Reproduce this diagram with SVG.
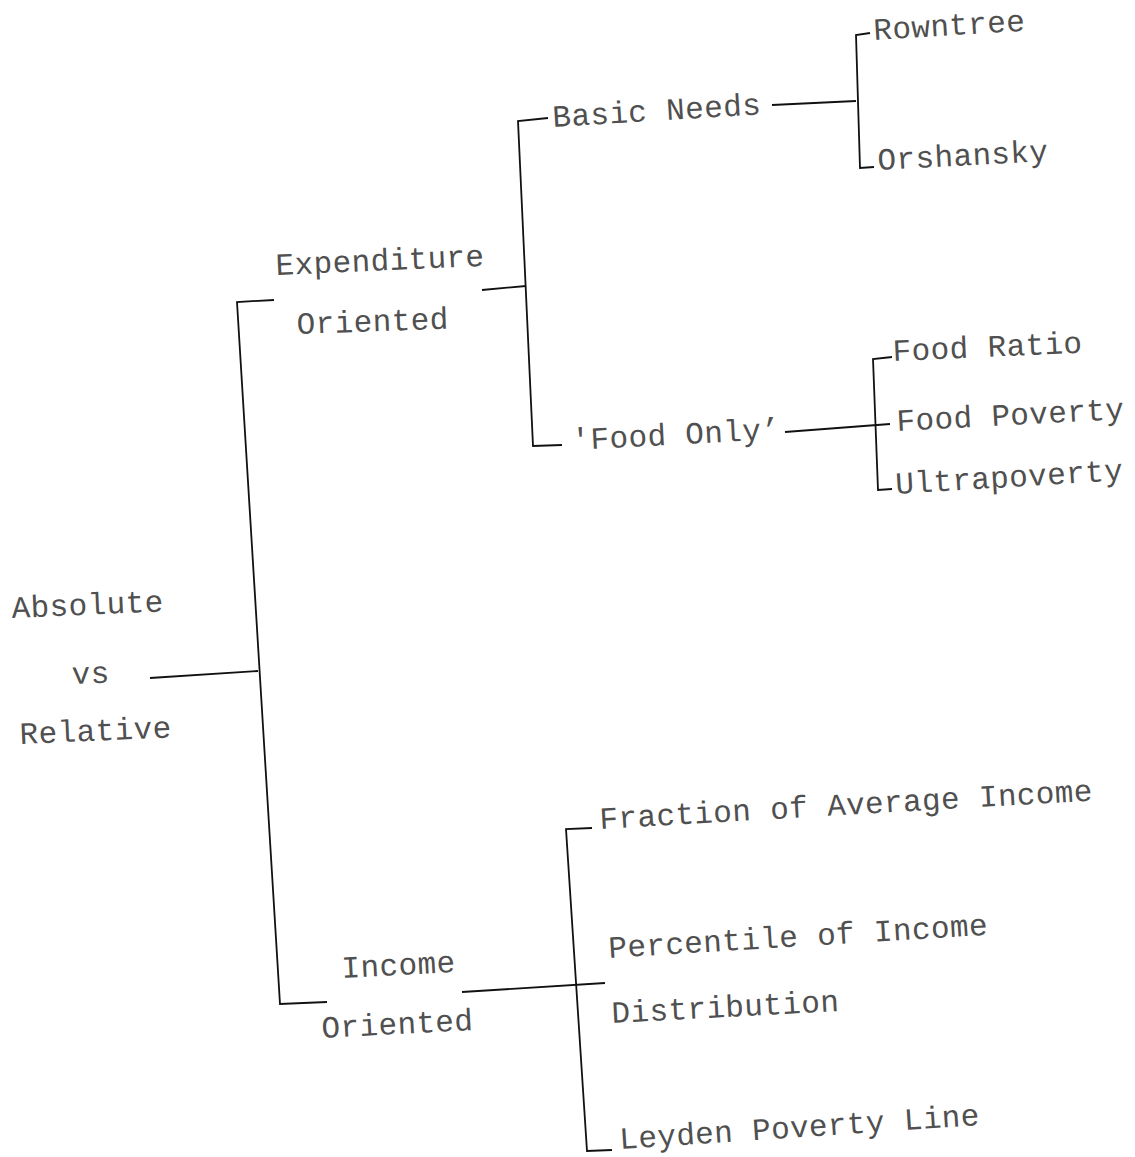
<svg xmlns="http://www.w3.org/2000/svg" width="1135" height="1157" viewBox="0 0 1135 1157">
<style>
  .t { font-family: "Liberation Mono", "Courier New", monospace; font-size: 31px; letter-spacing: 0.4px; fill: #505050; }
  .c { fill: none; stroke: #111; stroke-width: 1.8; stroke-linejoin: miter; }
</style>
<rect width="1135" height="1157" fill="#fff"/>
<g id="connectors">
  <line class="c" x1="150" y1="678" x2="258" y2="671"/>
  <polyline class="c" points="274,300 237,302 280,1004 327,1002"/>
  <line class="c" x1="482" y1="290" x2="526" y2="286"/>
  <polyline class="c" points="548,118 518,121 533,446 562,445"/>
  <line class="c" x1="772" y1="105" x2="856" y2="101"/>
  <polyline class="c" points="870,33 856,35 860,168 874,167"/>
  <line class="c" x1="785" y1="432" x2="890" y2="424"/>
  <polyline class="c" points="892,357 873,359 878,490 892,489"/>
  <line class="c" x1="462" y1="992" x2="605" y2="983"/>
  <polyline class="c" points="592,828 566,829 587,1151 612,1150"/>
</g>
<g id="node-root">
  <text class="t" x="12" y="618" transform="rotate(-2.5 12 618)">Absolute</text>
  <text class="t" x="72" y="684" transform="rotate(-2 72 684)">vs</text>
  <text class="t" x="20" y="744" transform="rotate(-2.5 20 744)">Relative</text>
</g>
<g id="node-expenditure">
  <text class="t" x="276" y="275" transform="rotate(-2.5 276 275)">Expenditure</text>
  <text class="t" x="297" y="334" transform="rotate(-2 297 334)">Oriented</text>
</g>
<g id="node-income">
  <text class="t" x="342" y="978" transform="rotate(-3 342 978)">Income</text>
  <text class="t" x="322" y="1038" transform="rotate(-3 322 1038)">Oriented</text>
</g>
<g id="node-basic-needs">
  <text class="t" x="553" y="127" transform="rotate(-3.5 553 127)">Basic Needs</text>
</g>
<g id="node-food-only">
  <text class="t" x="572" y="450" transform="rotate(-3 572 450)">'Food Only’</text>
</g>
<g id="node-rowntree">
  <text class="t" x="874" y="40" transform="rotate(-3.5 874 40)">Rowntree</text>
</g>
<g id="node-orshansky">
  <text class="t" x="878" y="170" transform="rotate(-3 878 170)">Orshansky</text>
</g>
<g id="node-food-ratio">
  <text class="t" x="893" y="361" transform="rotate(-2.5 893 361)">Food Ratio</text>
</g>
<g id="node-food-poverty">
  <text class="t" x="897" y="431" transform="rotate(-3 897 431)">Food Poverty</text>
</g>
<g id="node-ultrapoverty">
  <text class="t" x="896" y="494" transform="rotate(-3.5 896 494)">Ultrapoverty</text>
</g>
<g id="node-fraction">
  <text class="t" x="600" y="829" transform="rotate(-3.3 600 829)">Fraction of Average Income</text>
</g>
<g id="node-percentile">
  <text class="t" x="609" y="958" transform="rotate(-3.5 609 958)">Percentile of Income</text>
  <text class="t" x="612" y="1023" transform="rotate(-3 612 1023)">Distribution</text>
</g>
<g id="node-leyden">
  <text class="t" x="620" y="1149" transform="rotate(-3.8 620 1149)">Leyden Poverty Line</text>
</g>
</svg>
